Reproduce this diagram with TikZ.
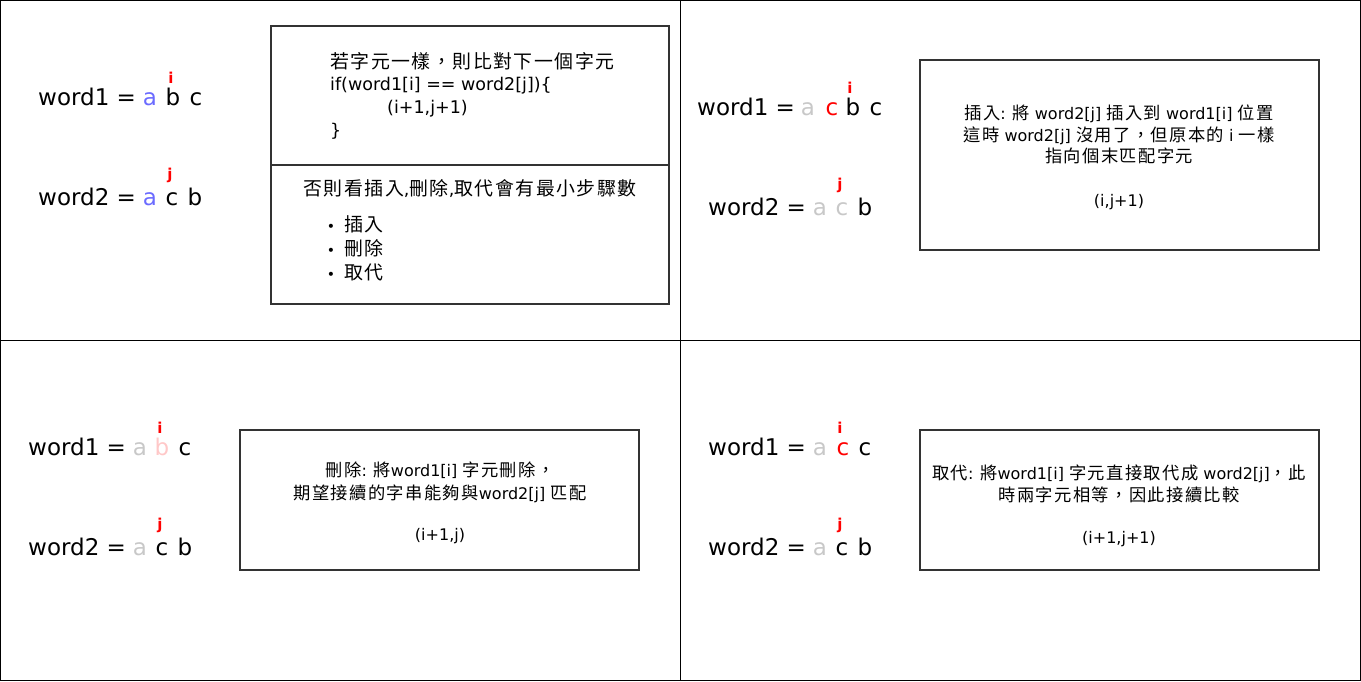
\documentclass[tikz,border=0pt]{standalone}
\usepackage{fontspec}
\setmainfont{DejaVu Sans}
\newfontfamily\cjk[Scale=1.08,LetterSpace=8]{Noto Sans CJK TC}
\definecolor{idxred}{HTML}{FF0000}
\definecolor{matchblue}{HTML}{6B6BFF}
\definecolor{donegray}{HTML}{C8C8C8}
\definecolor{delpink}{HTML}{FFC8C8}
\definecolor{boxgray}{HTML}{333333}
\begin{document}
\begin{tikzpicture}[x=1pt,y=-1pt,
  word/.style={anchor=base west,inner sep=0pt,font=\fontsize{23}{27}\selectfont},
  letter/.style={anchor=base,inner sep=0pt,font=\fontsize{23}{27}\selectfont},
  idx/.style={anchor=base,inner sep=0pt,text=idxred,font=\fontsize{15}{18}\selectfont\bfseries},
  box/.style={draw=boxgray,line width=2pt},
  big/.style={inner sep=0pt,font=\fontsize{17.5}{22}\selectfont},
  small/.style={anchor=base,inner sep=0pt,font=\fontsize{16}{20}\selectfont},
  dot/.style={anchor=center,inner sep=0pt,font=\fontsize{14}{14}\selectfont}]
\useasboundingbox (0,0) rectangle (1361,681);
% quadrant frame
\draw[line width=1pt] (0.5,0.5) rectangle (1360.5,680.5);
\draw[line width=1pt] (680.5,0.5) -- (680.5,680.5);
\draw[line width=1pt] (0.5,340.5) -- (1360.5,340.5);

% ---------- top left ----------
\node[word] (w1a) at (38,105) {word1 =};
\node[letter,text=matchblue] (w1aa) at (150,105) {a};
\node[letter] (w1ab) at (173,105) {b};
\node[letter] (w1ac) at (196,105) {c};
\node[idx] (ia) at (171,83) {i};
\node[word] (w2a) at (38,205) {word2 =};
\node[letter,text=matchblue] (w2aa) at (150,205) {a};
\node[letter] (w2ab) at (172,205) {c};
\node[letter] (w2ac) at (195,205) {b};
\node[idx] (ja) at (170,179) {j};

\draw[box] (271,26) rectangle (669,165);
\draw[box] (271,165) rectangle (669,304);
\node[big,anchor=base west] (tl1) at (330,68) {\cjk 若字元一樣，則比對下一個字元};
\node[big,anchor=base west] (tl2) at (330,90) {if(word1[i] == word2[j])\{};
\node[big,anchor=base west] (tl3) at (387,113) {(i+1,j+1)};
\node[big,anchor=base west] (tl4) at (330,136) {\}};
\node[big,anchor=base] (tl5) at (470,195) {{\cjk 否則看插入}{,}{\cjk 刪除}{,}{\cjk 取代會有最小步驟數}};
\node[dot] (b1) at (331,228) {•};
\node[dot] (b2) at (331,252) {•};
\node[dot] (b3) at (331,276) {•};
\node[big,anchor=base west] (tl6) at (344,231) {\cjk 插入};
\node[big,anchor=base west] (tl7) at (344,255) {\cjk 刪除};
\node[big,anchor=base west] (tl8) at (344,279) {\cjk 取代};

% ---------- top right ----------
\node[word] (w1b) at (697,115) {word1 =};
\node[letter,text=donegray] (w1ba) at (808,115) {a};
\node[letter,text=idxred] (w1bb) at (832,115) {c};
\node[letter] (w1bc) at (853,115) {b};
\node[letter] (w1bd) at (876,115) {c};
\node[idx] (ib) at (850,93) {i};
\node[word] (w2b) at (708,215) {word2 =};
\node[letter,text=donegray] (w2ba) at (820,215) {a};
\node[letter,text=donegray] (w2bb) at (842,215) {c};
\node[letter] (w2bc) at (865,215) {b};
\node[idx] (jb) at (840,189) {j};

\draw[box] (920,60) rectangle (1319,250);
\node[small] (tr1) at (1119,119) {{\cjk 插入}: {\cjk 將} word2[j] {\cjk 插入到} word1[i] {\cjk 位置}};
\node[small] (tr2) at (1119,141) {{\cjk 這時} word2[j] {\cjk 沒用了，但原本的} i {\cjk 一樣}};
\node[small] (tr3) at (1119,162) {\cjk 指向個末匹配字元};
\node[small] (tr4) at (1119,206) {(i,j+1)};

% ---------- bottom left ----------
\node[word] (w1c) at (28,455) {word1 =};
\node[letter,text=donegray] (w1ca) at (140,455) {a};
\node[letter,text=delpink] (w1cb) at (162,455) {b};
\node[letter] (w1cc) at (185,455) {c};
\node[idx] (ic) at (160,433) {i};
\node[word] (w2c) at (28,555) {word2 =};
\node[letter,text=donegray] (w2ca) at (140,555) {a};
\node[letter] (w2cb) at (162,555) {c};
\node[letter] (w2cc) at (185,555) {b};
\node[idx] (jc) at (160,529) {j};

\draw[box] (240,430) rectangle (639,570);
\node[small] (bl1) at (440,476) {{\cjk 刪除}: {\cjk 將}word1[i] {\cjk 字元刪除，}};
\node[small] (bl2) at (440,499) {{\cjk 期望接續的字串能夠與}word2[j] {\cjk 匹配}};
\node[small] (bl3) at (440,540) {(i+1,j)};

% ---------- bottom right ----------
\node[word] (w1d) at (708,455) {word1 =};
\node[letter,text=donegray] (w1da) at (820,455) {a};
\node[letter,text=idxred] (w1db) at (843,455) {c};
\node[letter] (w1dc) at (865,455) {c};
\node[idx] (id) at (840,433) {i};
\node[word] (w2d) at (708,555) {word2 =};
\node[letter,text=donegray] (w2da) at (820,555) {a};
\node[letter] (w2db) at (842,555) {c};
\node[letter] (w2dc) at (865,555) {b};
\node[idx] (jd) at (840,529) {j};

\draw[box] (920,430) rectangle (1319,570);
\node[small] (br1) at (1119,479) {{\cjk 取代}: {\cjk 將}word1[i] {\cjk 字元直接取代成} word2[j]{\cjk ，此}};
\node[small] (br2) at (1119,501) {\cjk 時兩字元相等，因此接續比較};
\node[small] (br3) at (1119,543) {(i+1,j+1)};
\end{tikzpicture}
\end{document}
